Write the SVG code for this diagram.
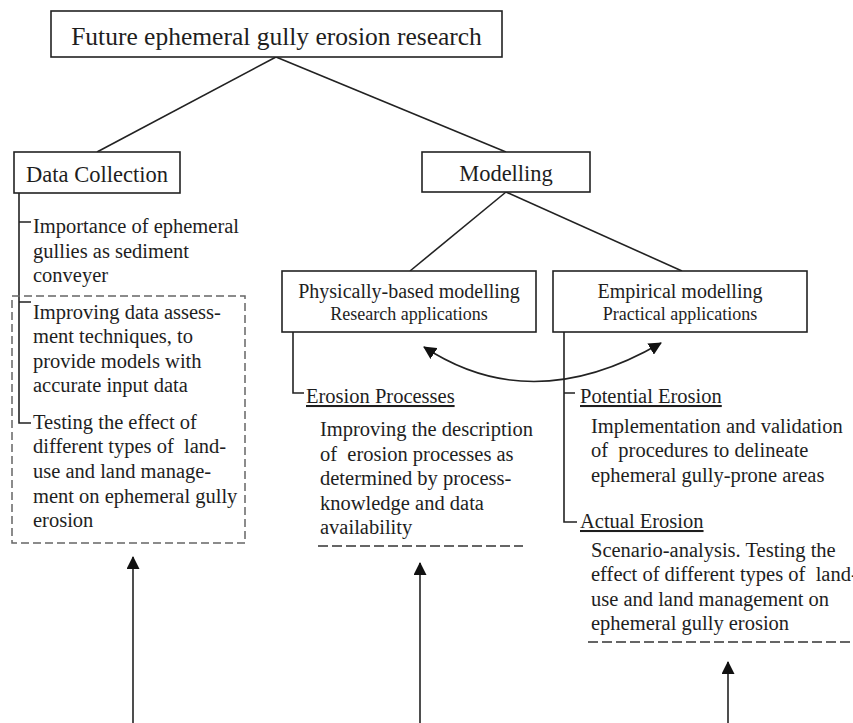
<svg xmlns="http://www.w3.org/2000/svg" width="853" height="723" viewBox="0 0 853 723">
<style>
text{font-family:"Liberation Serif","Times New Roman",serif;fill:#1e1e1e}
.box{fill:#fff;stroke:#222;stroke-width:1.6}
.ln{fill:none;stroke:#222;stroke-width:1.6}
.body{font-size:20.5px}
.hdr{font-size:20.5px;text-decoration:underline}
.dash{fill:none;stroke:#333;stroke-width:1.5;stroke-dasharray:10 4}
.dbox{fill:none;stroke:#666;stroke-width:1.5;stroke-dasharray:8 4}
</style>
<defs>
<marker id="ah" viewBox="0 0 13 13" refX="12" refY="6.5" markerWidth="13" markerHeight="13" markerUnits="userSpaceOnUse" orient="auto-start-reverse">
<path d="M0,0 L13,6.5 L0,13 Z" fill="#111"/>
</marker>
</defs>
<g id="connectors">
<line class="ln" x1="276" y1="57" x2="97" y2="152"/>
<line class="ln" x1="276" y1="57" x2="506" y2="152"/>
<line class="ln" x1="506" y1="192" x2="410" y2="271"/>
<line class="ln" x1="506" y1="192" x2="682" y2="271"/>
<path class="ln" d="M19,193 V423 H31 M19,222 H31 M19,302 H31"/>
<path class="ln" d="M293,332 V393 H304"/>
<path class="ln" d="M564,332 V522 H577 M564,393 H575"/>
<path class="ln" d="M424,347 Q532,418 661,343" marker-start="url(#ah)" marker-end="url(#ah)"/>
<line class="ln" x1="133" y1="723" x2="133" y2="557" marker-end="url(#ah)"/>
<line class="ln" x1="420" y1="723" x2="420" y2="563" marker-end="url(#ah)"/>
<line class="ln" x1="728" y1="723" x2="728" y2="662" marker-end="url(#ah)"/>
</g>
<g id="title">
<rect class="box" x="51" y="11" width="451" height="46"/>
<text x="276.5" y="45" font-size="25.5" text-anchor="middle">Future ephemeral gully erosion research</text>
</g>
<g id="data-collection">
<rect class="box" x="14" y="152" width="166" height="41"/>
<text x="97" y="182" font-size="22.5" text-anchor="middle">Data Collection</text>
</g>
<g id="modelling">
<rect class="box" x="422" y="152" width="168" height="40"/>
<text x="506" y="181" font-size="22.5" text-anchor="middle">Modelling</text>
</g>
<g id="physically-based">
<rect class="box" x="282" y="271" width="254" height="61"/>
<text x="409" y="298" font-size="20" text-anchor="middle">Physically-based modelling</text>
<text x="409" y="320" font-size="18" text-anchor="middle">Research applications</text>
</g>
<g id="empirical">
<rect class="box" x="553" y="271" width="254" height="61"/>
<text x="680" y="298" font-size="20" text-anchor="middle">Empirical modelling</text>
<text x="680" y="320" font-size="18" text-anchor="middle">Practical applications</text>
</g>
<g id="data-items">
<rect class="dbox" x="12" y="296" width="233" height="247"/>
<text class="body" x="33" y="233">Importance of ephemeral</text>
<text class="body" x="33" y="258">gullies as sediment</text>
<text class="body" x="33" y="282">conveyer</text>
<text class="body" x="33" y="319">Improving data assess-</text>
<text class="body" x="33" y="343">ment techniques, to</text>
<text class="body" x="33" y="368">provide models with</text>
<text class="body" x="33" y="392">accurate input data</text>
<text class="body" x="33" y="429">Testing the effect of</text>
<text class="body" x="33" y="453" xml:space="preserve">different types of  land-</text>
<text class="body" x="33" y="478">use and land manage-</text>
<text class="body" x="33" y="503">ment on ephemeral gully</text>
<text class="body" x="33" y="527">erosion</text>
</g>
<g id="erosion-processes">
<text class="hdr" x="306" y="403">Erosion Processes</text>
<text class="body" x="320" y="436">Improving the description</text>
<text class="body" x="320" y="461" xml:space="preserve">of  erosion processes as</text>
<text class="body" x="320" y="485">determined by process-</text>
<text class="body" x="320" y="510">knowledge and data</text>
<text class="body" x="320" y="534">availability</text>
<line class="dash" x1="318" y1="546" x2="523" y2="546"/>
</g>
<g id="potential-erosion">
<text class="hdr" x="580" y="403">Potential Erosion</text>
<text class="body" x="591" y="433">Implementation and validation</text>
<text class="body" x="591" y="457" xml:space="preserve">of  procedures to delineate</text>
<text class="body" x="591" y="482">ephemeral gully-prone areas</text>
</g>
<g id="actual-erosion">
<text class="hdr" x="580" y="528">Actual Erosion</text>
<text class="body" x="591" y="557">Scenario-analysis. Testing the</text>
<text class="body" x="591" y="581" xml:space="preserve">effect of different types of  land-</text>
<text class="body" x="591" y="606">use and land management on</text>
<text class="body" x="591" y="630">ephemeral gully erosion</text>
<line class="dash" x1="588" y1="642" x2="853" y2="642"/>
</g>
</svg>
